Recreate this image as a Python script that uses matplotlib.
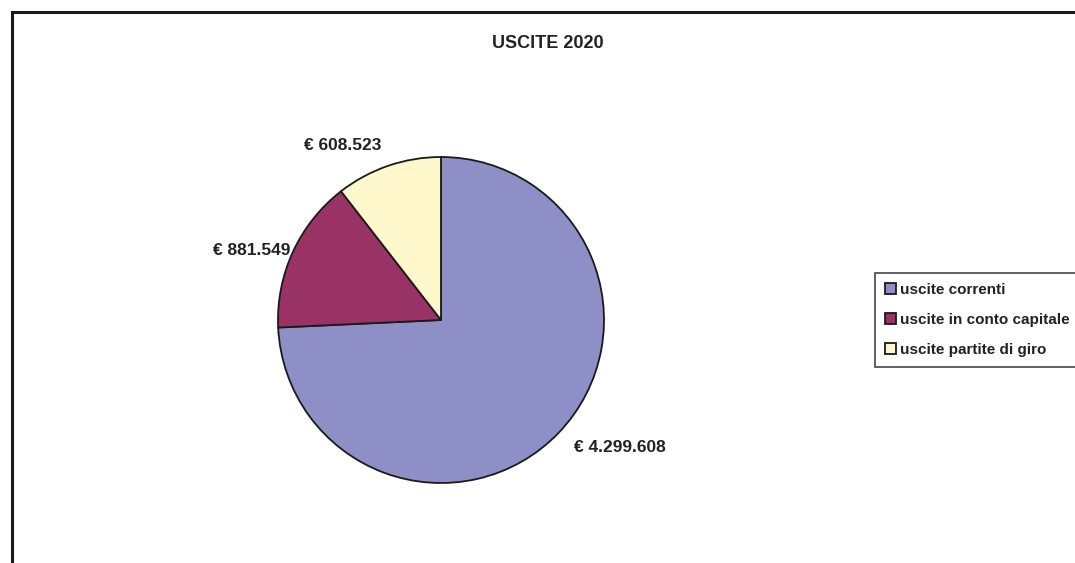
import numpy as np
import matplotlib.pyplot as plt
from matplotlib.patches import Rectangle

# dati
categorie = ['uscite correnti', 'uscite in conto capitale', 'uscite partite di giro']
valori = [4299608, 881549, 608523]
etichette = ['€ 4.299.608', '€ 881.549', '€ 608.523']
colori = ['#8e8fc6', '#993366', '#fff8cc']
titolo = 'USCITE 2020'

plt.rcParams['font.family'] = ['Liberation Sans', 'DejaVu Sans']

W, H = 1075, 563
fig = plt.figure(figsize=(W / 100, H / 100), dpi=100)

# cornice del grafico (tagliata a destra e in basso)
fig.patches.append(Rectangle((12 / W, -0.1), 1.2, (H - 12) / H + 0.1,
                             transform=fig.transFigure, fill=False,
                             edgecolor='#1a1a1a', linewidth=2.2))

fig.text(548 / W, 1 - 43 / H, titolo, ha='center', va='center',
         fontsize=13, fontweight='bold', color='#222222')

cx, cy, r = 441, 320, 163
ax = fig.add_axes([(cx - r) / W, (H - cy - r) / H, 2 * r / W, 2 * r / H])
wedges, _ = ax.pie(valori, colors=colori, startangle=90, counterclock=False,
                   wedgeprops=dict(edgecolor='#1a1a1a', linewidth=1.3))
ax.set_xlim(-1, 1)
ax.set_ylim(-1, 1)
ax.set_aspect('equal')
ax.axis('off')

# etichette dei valori
distanze = [1.13, 1.02, 1.13]
for w, testo, d in zip(wedges, etichette, distanze):
    ang = np.deg2rad((w.theta1 + w.theta2) / 2)
    x, y = d * np.cos(ang), d * np.sin(ang)
    ax.text(x, y, testo, ha='left' if x > 0 else 'right', va='center',
            fontsize=12.5, fontweight='bold', color='#222222')

leg = fig.legend(wedges, categorie, loc='upper left',
                 bbox_to_anchor=(875 / W, 1 - 273 / H),
                 prop=dict(size=11, weight='bold'), frameon=True, fancybox=False,
                 handlelength=0.7, handleheight=0.7, handletextpad=0.3,
                 labelspacing=1.05, borderpad=0.65, borderaxespad=0)
for t in leg.get_texts():
    t.set_color('#222222')
leg.get_frame().set_edgecolor('#1a1a1a')
leg.get_frame().set_linewidth(1.2)

fig.savefig('out.png', dpi=100)
